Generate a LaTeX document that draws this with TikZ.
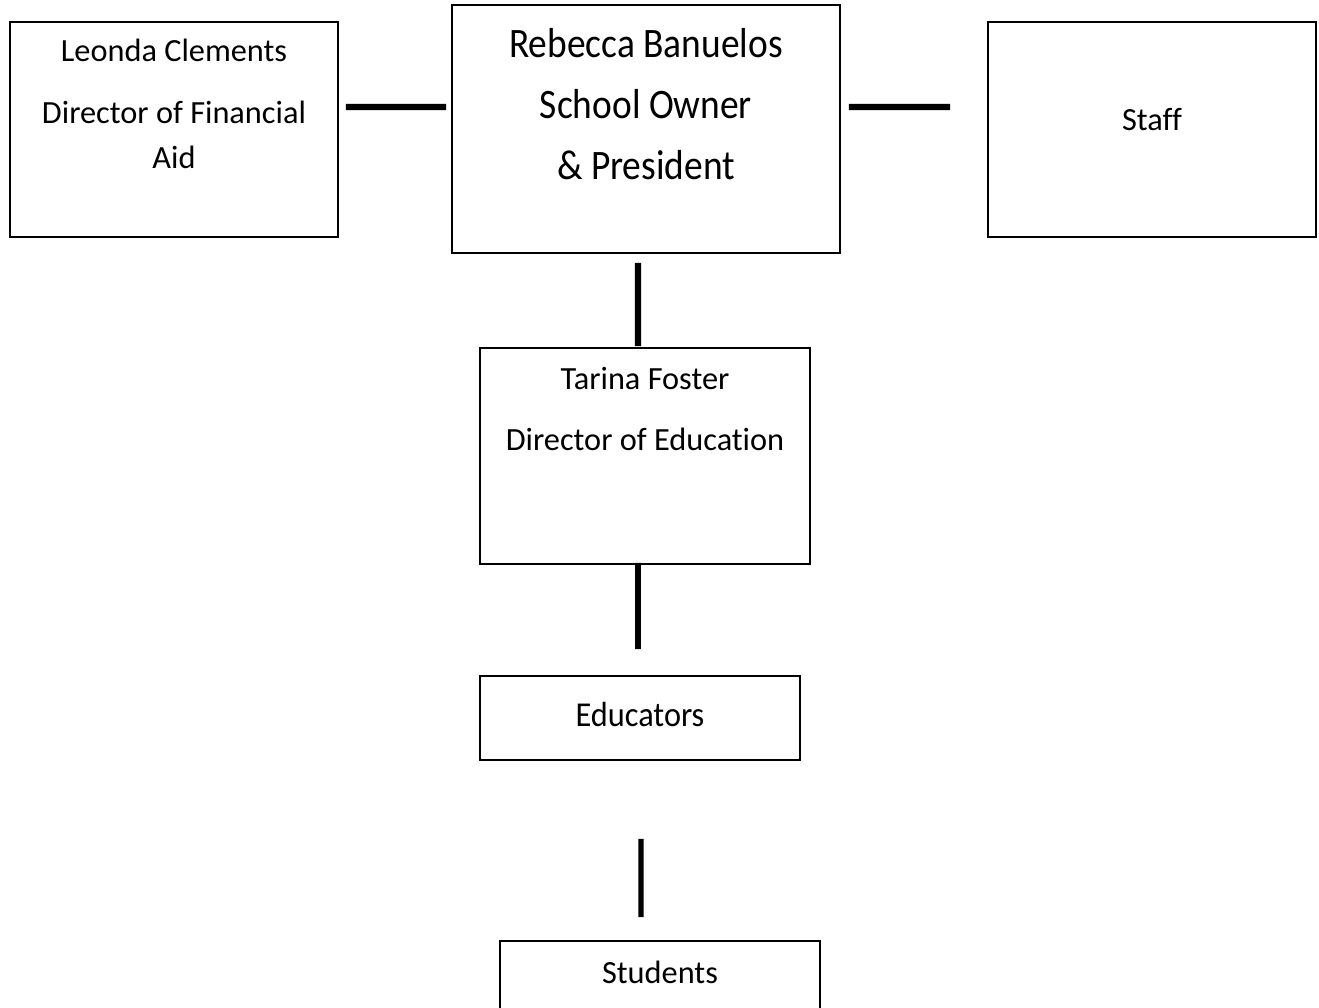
\documentclass[tikz,border=0pt]{standalone}
\usepackage{fontspec}
\setmainfont{Carlito}[Ligatures=NoCommon]
\usetikzlibrary{positioning}

\tikzset{
  box/.style={draw, line width=1.1pt, inner sep=0pt},
  link/.style={line width=3.6pt},
  txt/.style={font=\fontsize{18.4}{22}\selectfont},
  bigtxt/.style={font=\fontsize{21.3}{25}\selectfont, yscale=1.12, transform shape},
  talltxt/.style={txt, yscale=1.08, transform shape}
}

\begin{document}
\begin{tikzpicture}
        \useasboundingbox (0,0) rectangle (26.38,-20.16);
        \clip (0,0) rectangle (26.38,-20.16);

        % boxes
        \node[box, minimum width=6.56cm, minimum height=4.3cm] (leo) at (3.48,-2.59) {};
        \node[box, minimum width=7.76cm, minimum height=4.96cm] (reb) at (12.92,-2.58) {};
        \node[box, minimum width=6.56cm, minimum height=4.3cm] (staff) at (23.04,-2.59) {};
        \node[box, minimum width=6.6cm, minimum height=4.32cm] (tar) at (12.9,-9.12) {};
        \node[box, minimum width=6.4cm, minimum height=1.68cm] (edu) at (12.8,-14.36) {};
        \node[box, minimum width=6.4cm, minimum height=1.8cm] (stu) at (13.2,-19.72) {};

        % texts
        \node[txt] (leoname) at (3.48,-1.0) {Leonda Clements};
        \node[txt] (leorole) at (3.48,-2.24) {Director of Financial};
        \node[txt] (leorole2) at (3.48,-3.14) {Aid};
        \node[bigtxt] (rebname) at (12.92,-0.86) {Rebecca Banuelos};
        \node[bigtxt] (rebrole) at (12.92,-2.08) {School Owner};
        \node[bigtxt] (rebrole2) at (12.92,-3.3) {\& President};
        \node[txt] (stafftxt) at (23.04,-2.4) {Staff};
        \node[txt] (tarname) at (12.9,-7.56) {Tarina Foster};
        \node[txt] (tarrole) at (12.9,-8.78) {Director of Education};
        \node[talltxt] (edutxt) at (12.8,-14.3) {Educators};
        \node[txt] (stutxt) at (13.2,-19.44) {Students};

        % connectors
        \draw[link, shorten <=0.14cm, shorten >=0.1cm] ([yshift=0.45cm]leo.east) -- ([yshift=0.44cm]reb.west);
        \draw[link, shorten <=0.16cm, shorten >=0.74cm] ([yshift=0.44cm]reb.east) -- ([yshift=0.45cm]staff.west);
        \draw[link, shorten <=0.18cm, shorten >=0.02cm] ([xshift=-0.16cm]reb.south) -- ([xshift=-0.14cm]tar.north);
        \draw[link, line width=3.3pt, shorten <=-0.04cm, shorten >=0.52cm] ([xshift=-0.14cm]tar.south) -- ([xshift=-0.04cm]edu.north);
        \draw[link, line width=3pt, shorten <=1.56cm, shorten >=0.46cm] ([xshift=0.02cm]edu.south) -- ([xshift=-0.38cm]stu.north);

    \end{tikzpicture}
\end{document}
